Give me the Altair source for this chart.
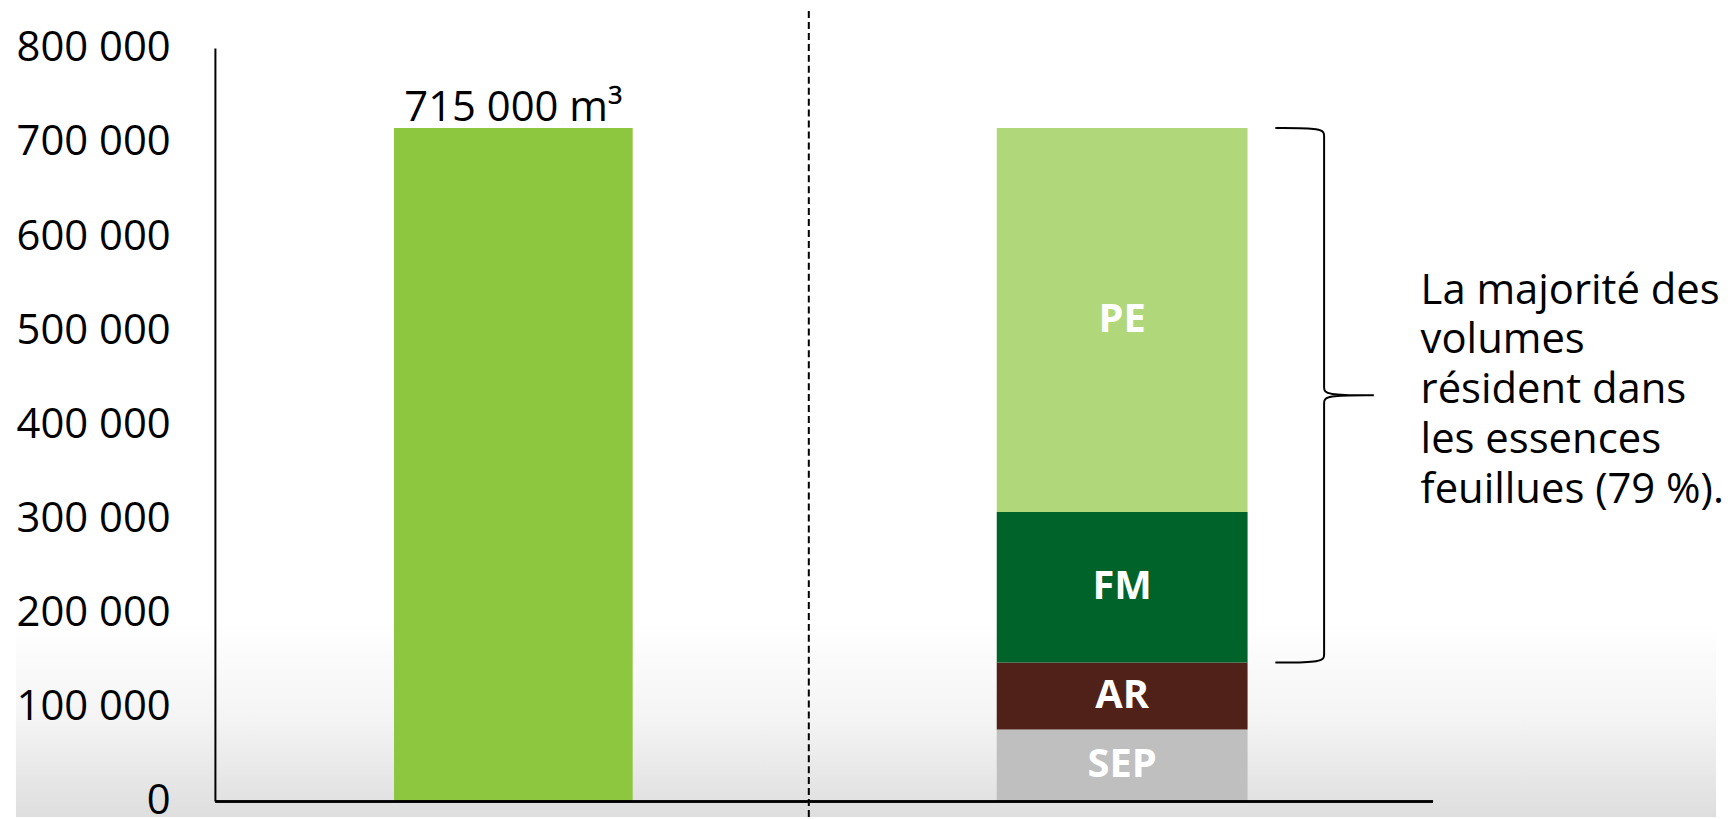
import altair as alt
import pandas as pd

# ---- data ----
groups = ["Total", "Par essence"]
total_volume = [715000]
total_label = ["715 000 m³"]
species = ["SEP", "AR", "FM", "PE"]
species_volume = [76000, 71000, 160000, 408000]
species_colors = ["#BFBFBF", "#4F2118", "#006329", "#B0D87A"]
y_ticks = [0, 100000, 200000, 300000, 400000, 500000, 600000, 700000, 800000]
note_lines = ["La majorité des", "volumes", "résident dans", "les essences", "feuillues (79 %)."]

W, H = 1224, 757
FONT = "Open Sans"

df_total = pd.DataFrame({"groupe": [groups[0]], "volume": total_volume, "label": total_label})
df_sp = pd.DataFrame({
    "groupe": [groups[1]] * len(species),
    "essence": species,
    "volume": species_volume,
    "rang": list(range(len(species))),
})
one = pd.DataFrame({"k": [0]})

x_enc = alt.X(
    "groupe:N", sort=groups,
    scale=alt.Scale(domain=groups, paddingInner=0, paddingOuter=0),
    axis=alt.Axis(title=None, labels=False, ticks=False, grid=False, orient="bottom", zindex=1,
                  domain=True, domainColor="black", domainWidth=2),
)
y_scale = alt.Scale(domain=[0, 800000], nice=False, zero=True)
y_axis = alt.Axis(
    title=None, values=y_ticks, orient="left", zindex=1,
    labelExpr="replace(format(datum.value, ','), ',', ' ')",
    labelFont=FONT, labelFontSize=42, labelColor="black", labelPadding=45,
    ticks=False, grid=False, domainColor="black", domainWidth=2,
)

# background vignette at the bottom (decoration)
bg = alt.Chart(one).mark_rect(
    color=alt.Gradient(
        gradient="linear",
        stops=[alt.GradientStop(color="#ffffff", offset=0),
               alt.GradientStop(color="#f4f4f4", offset=0.5),
               alt.GradientStop(color="#dedede", offset=1)],
        x1=0, x2=0, y1=0, y2=1,
    )
).encode(x=alt.value(-200), x2=alt.value(W + 285),
         y=alt.value(H - 180), y2=alt.value(H + 16))

sep = alt.Chart(one).mark_rule(color="black", strokeWidth=2, strokeDash=[7, 4]).encode(
    x=alt.value(597), y=alt.value(-37), y2=alt.value(H + 16)
)

bar1 = alt.Chart(df_total).mark_bar(color="#8DC63F", width={"band": 0.392}, xOffset=-6).encode(
    x=x_enc, y=alt.Y("volume:Q", scale=y_scale, axis=y_axis)
)
label1 = alt.Chart(df_total).mark_text(
    font=FONT, fontSize=42, baseline="alphabetic", dy=-7, xOffset=-6, color="black"
).encode(x=x_enc, y=alt.Y("volume:Q", scale=y_scale, axis=y_axis), text="label:N")

stack_base = alt.Chart(df_sp).transform_stack(
    stack="volume", groupby=["groupe"], as_=["v0", "v1"],
    sort=[alt.SortField("rang", order="ascending")],
).transform_calculate(mid="(datum.v0 + datum.v1) / 2")

bars2 = stack_base.mark_bar(width={"band": 0.412}, xOffset=-6).encode(
    x=x_enc,
    y=alt.Y("v0:Q", scale=y_scale, axis=y_axis),
    y2="v1:Q",
    color=alt.Color("essence:N", scale=alt.Scale(domain=species, range=species_colors), legend=None),
)
seg_labels = stack_base.mark_text(
    font=FONT, fontWeight="bold", fontSize=40, color="white", xOffset=-6
).encode(x=x_enc, y=alt.Y("mid:Q", scale=y_scale, axis=y_axis), text="essence:N")

# brace spanning FM + PE (feuillus)
lo = species_volume[0] + species_volume[1]
hi = sum(species_volume)
mid = (lo + hi) / 2
r = 8 / H * 800000
x0, x1, x2 = 1066, 1115, 1165
pts = [(x0, hi), (x1, hi), (x1, hi - r), (x1, hi - 2 * r), (x1, mid + 2 * r), (x1, mid + r),
       (x1, mid), (x2, mid), (x2, mid), (x2, mid), (x1, mid), (x1, mid - r), (x1, mid - 2 * r),
       (x1, lo + 2 * r), (x1, lo + r), (x1, lo), (x0, lo)]
df_brace = pd.DataFrame({"bx": [p[0] for p in pts], "by": [p[1] for p in pts], "i": list(range(len(pts)))})
brace = alt.Chart(df_brace).mark_line(color="black", strokeWidth=2, interpolate="basis").encode(
    x=alt.X("bx:Q", scale=alt.Scale(domain=[0, W], nice=False, zero=False), axis=None),
    y=alt.Y("by:Q", scale=y_scale, axis=y_axis),
    order="i:Q",
)

note = alt.Chart(one).mark_text(
    text=note_lines, align="left", baseline="alphabetic", font=FONT,
    fontSize=42, lineHeight=50, color="black",
).encode(x=alt.value(1212), y=alt.value(257))

chart = alt.layer(bg, sep, bar1, label1, bars2, seg_labels, brace, note).resolve_scale(
    x="independent"
).resolve_axis(x="independent").properties(
    width=W, height=H, padding={"left": 8, "top": 0, "right": 0, "bottom": 0}, background="white"
).configure_view(stroke=None)

chart.save("out.html", embed_options={"renderer": "svg", "actions": False})
